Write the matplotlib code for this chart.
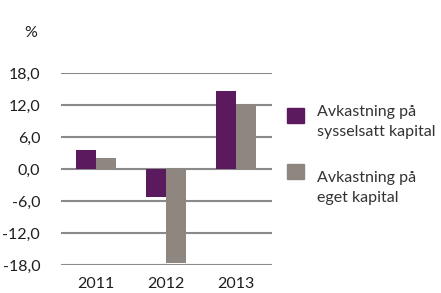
import numpy as np
import matplotlib
matplotlib.use('Agg')
from matplotlib import pyplot as plt
from matplotlib.patches import Rectangle

plt.rcParams['font.family'] = ['Lato', 'DejaVu Sans']

years = ['2011', '2012', '2013']
sysselsatt = [3.6, -5.3, 14.7]
eget = [2.1, -17.7, 12.2]
series_names = [['Avkastning på', 'sysselsatt kapital'], ['Avkastning på', 'eget kapital']]
yticks = [18, 12, 6, 0, -6, -12, -18]

purple = '#5c1a5e'
grey = '#8f8680'
txt = '#1e1e1e'
W, H = 441, 293

fig = plt.figure(figsize=(W/100, H/100), dpi=100)
ax = fig.add_axes([61/W, 1-265/H, 211/W, 192/H])

x = np.arange(len(years))
bw = 0.286
ax.bar(x - bw/2, sysselsatt, bw, color=purple, zorder=3)
ax.bar(x + bw/2, eget, bw, color=grey, zorder=3)

ax.set_xlim(-0.5, 2.514)
ax.set_ylim(-18, 18)
ax.set_yticks(yticks)
ax.set_yticklabels([('%.1f' % v).replace('.', ',') for v in yticks], fontsize=11.5, color=txt)
ax.set_xticks(x)
ax.set_xticklabels(years, fontsize=11.5, color=txt)
ax.tick_params(length=0, axis='y', pad=15)
ax.tick_params(length=0, axis='x', pad=9)
ax.grid(axis='y', color='#8a8a8a', linewidth=1.5, zorder=1)
for s in ax.spines.values():
    s.set_visible(False)

fig.text(31/W, 1-33/H, '%', fontsize=11.5, color=txt, ha='center', va='center')

# legend drawn by hand
sq_top = [108, 164]
base1 = [116, 182]
for col, lines, t, b in zip([purple, grey], series_names, sq_top, base1):
    fig.add_artist(Rectangle((287/W, 1-(t+15)/H), 17/W, 15/H, color=col,
                             transform=fig.transFigure))
    for k, line in enumerate(lines):
        fig.text(317/W, 1-(b+20*k)/H, line, fontsize=11.5, color='#333333',
                 va='baseline', ha='left')

fig.savefig('out.png', dpi=100)
